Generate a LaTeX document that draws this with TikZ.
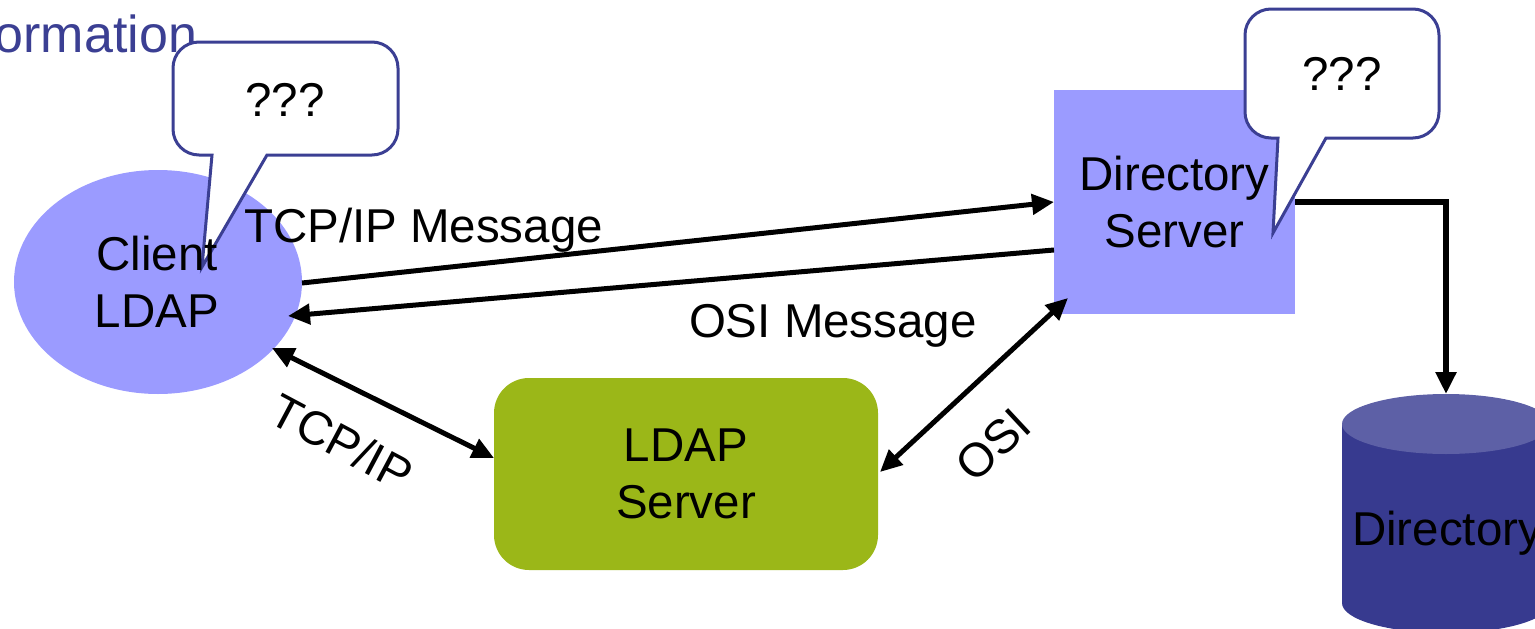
\documentclass[tikz,border=0pt]{standalone}
\usepackage{fontspec}
\setmainfont{Liberation Sans}
\usetikzlibrary{shapes.geometric,arrows.meta,calc}

\definecolor{lilac}{RGB}{155,155,255}
\definecolor{navy}{RGB}{59,63,147}
\definecolor{olive}{RGB}{155,183,24}
\definecolor{cylbody}{RGB}{55,58,143}
\definecolor{cyltop}{RGB}{93,96,166}

\tikzset{
  every node/.style={inner sep=0pt, outer sep=0pt,
    font=\fontsize{47.5}{57}\selectfont},
  lbl/.style={align=center},
  blob/.style={fill=lilac, draw=none},
  callout/.style={draw=navy, fill=white, line width=3pt, line join=miter},
  conn/.style={line width=5pt, -{Triangle[length=22pt, width=20pt]}},
  twoway/.style={line width=5pt, {Triangle[length=22pt, width=20pt]}-{Triangle[length=22pt, width=20pt]}},
}

\begin{document}
\begin{tikzpicture}[x=1pt, y=-1pt]
\useasboundingbox (0,0) rectangle (1535,629);
\clip (0,0) rectangle (1535,629);

% heading fragment
\node[anchor=base east, text=navy, font=\fontsize{52}{60}\selectfont] (heading) at (197,52) {ormation};

% client ellipse
\node[blob, ellipse, minimum width=288pt, minimum height=224pt] (client) at (158,282) {};

% directory server box
\node[blob, rectangle, minimum width=241pt, minimum height=224pt] (ds) at (1174.5,202) {};
\node[lbl] (dslbl) at (ds.center) {Directory\\Server};

% LDAP server box
\node[fill=olive, rounded corners=35pt, minimum width=384pt, minimum height=192pt, lbl] (ldap) at (686,474) {LDAP\\Server};

% speech bubble over the client
\draw[callout] (267,155) [rounded corners=26pt] -- (398,155) -- (398,42) -- (173,42) -- (173,155) [sharp corners] -- (212,155) -- (202,267) -- cycle;
\node (q1) at (285,100) {???};

% client label drawn above the bubble pointer
\node[lbl] (clientlbl) at (157,282) {Client\\LDAP};

% speech bubble over the directory server
\draw[callout] (1326,138) [rounded corners=26pt] -- (1439,138) -- (1439,9) -- (1245,9) -- (1245,138) [sharp corners] -- (1278,138) -- (1273,233) -- cycle;
\node (q2) at (1342,74) {???};

% directory store (cylinder)
\fill[cylbody] (1342,424) -- (1342,603) arc[start angle=180, end angle=0, x radius=104, y radius=30] -- (1550,424) -- cycle;
\fill[cyltop] (1446,424) ellipse [x radius=104, y radius=30];
\coordinate (dirtop) at (1446,394);
\node[anchor=base west] (dir) at (1352,545) {Directory};

% connectors
\draw[conn] ($(client.center)+(144,1)$) -- (ds.west);
\draw[conn] ($(ds.west)+(0,48)$) -- ($(client.center)+(130,34)$);
\draw[twoway] ($(client.center)+(114,66)$) -- ($(ldap.west)+(0,-16)$);
\draw[twoway] ($(ds.south west)+(14,-16)$) -- ($(ldap.east)+(2,-2)$);
\draw[line width=6pt, -{Triangle[length=22pt, width=20pt]}, line join=miter] (ds.east) -| (dirtop);

% connector labels
\node[anchor=base west] (m1) at (244,242) {TCP/IP Message};
\node[anchor=base west] (m2) at (689,337) {OSI Message};
\node[rotate=-28] (m3) at (342,442) {TCP/IP};
\node[rotate=43] (m4) at (993,445) {OSI};

\end{tikzpicture}
\end{document}
